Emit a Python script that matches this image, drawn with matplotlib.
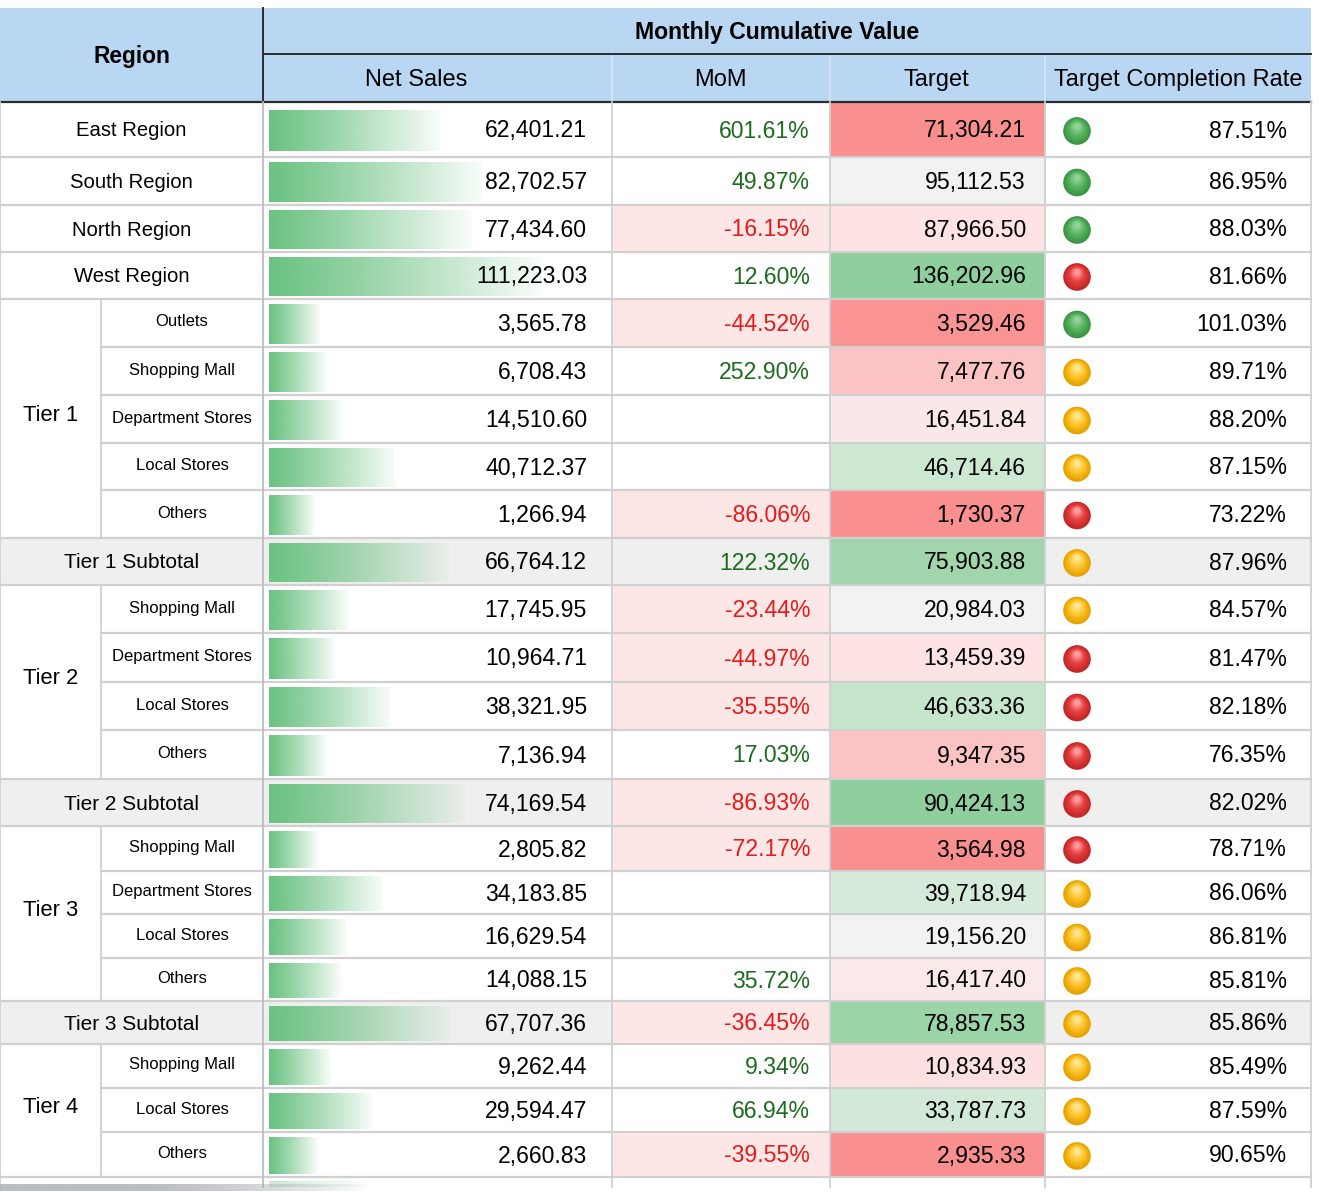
import numpy as np
import matplotlib
import matplotlib.pyplot as plt
from matplotlib.patches import Rectangle, Circle
from matplotlib.colors import LinearSegmentedColormap, to_rgb

matplotlib.use('Agg')
plt.rcParams['font.family'] = ['Liberation Sans', 'DejaVu Sans']

row_labels = ["East Region", "South Region", "North Region", "West Region",
              "Outlets", "Shopping Mall", "Department Stores", "Local Stores", "Others",
              "Tier 1 Subtotal",
              "Shopping Mall", "Department Stores", "Local Stores", "Others",
              "Tier 2 Subtotal",
              "Shopping Mall", "Department Stores", "Local Stores", "Others",
              "Tier 3 Subtotal",
              "Shopping Mall", "Local Stores", "Others"]
row_tier = [None] * 4 + ["Tier 1"] * 5 + [None] + ["Tier 2"] * 4 + [None] + \
           ["Tier 3"] * 4 + [None] + ["Tier 4"] * 3
is_subtotal = [lab.endswith("Subtotal") for lab in row_labels]

net_sales = [62401.21, 82702.57, 77434.60, 111223.03,
             3565.78, 6708.43, 14510.60, 40712.37, 1266.94,
             66764.12,
             17745.95, 10964.71, 38321.95, 7136.94,
             74169.54,
             2805.82, 34183.85, 16629.54, 14088.15,
             67707.36,
             9262.44, 29594.47, 2660.83]
mom = [601.61, 49.87, -16.15, 12.60,
       -44.52, 252.90, None, None, -86.06,
       122.32,
       -23.44, -44.97, -35.55, 17.03,
       -86.93,
       -72.17, None, None, 35.72,
       -36.45,
       9.34, 66.94, -39.55]
target = [71304.21, 95112.53, 87966.50, 136202.96,
          3529.46, 7477.76, 16451.84, 46714.46, 1730.37,
          75903.88,
          20984.03, 13459.39, 46633.36, 9347.35,
          90424.13,
          3564.98, 39718.94, 19156.20, 16417.40,
          78857.53,
          10834.93, 33787.73, 2935.33]
# heat shade of the Target cell, -1 red .. 0 neutral .. 1 green (as seen)
target_shade = [-1.0, 0.0, -0.3, 1.0,
                -0.95, -0.55, -0.22, 0.5, -1.0,
                0.85,
                0.0, -0.3, 0.55, -0.55,
                1.0,
                -1.0, 0.38, 0.0, -0.18,
                0.9,
                -0.32, 0.45, -1.0]
rate = [87.51, 86.95, 88.03, 81.66,
        101.03, 89.71, 88.20, 87.15, 73.22,
        87.96,
        84.57, 81.47, 82.18, 76.35,
        82.02,
        78.71, 86.06, 86.81, 85.81,
        85.86,
        85.49, 87.59, 90.65]
status = ['g', 'g', 'g', 'r',
          'g', 'y', 'y', 'y', 'r',
          'y',
          'y', 'r', 'r', 'r',
          'r',
          'r', 'y', 'y', 'y',
          'y',
          'y', 'y', 'y']

sub_headers = ["Net Sales", "MoM", "Target", "Target Completion Rate"]

# ---- layout (pixels) ----
W, H = 1319, 1192
x_left, x_sub, x_reg, x_mom, x_tgt, x_rate, x_right = 0, 101, 263, 612, 830, 1045, 1311
y_top, y_hmid, y_hbot = 8, 54, 102
row_edges = [102, 157, 205, 252, 299, 347, 395, 443, 490, 538, 585, 633,
             682, 730, 779, 826, 871, 914, 958, 1001, 1044, 1088, 1132, 1177]
sub_header_x = [416, 720, 936, 1178]

header_blue = '#b9d6f2'
grid_grey = '#d0d0d0'
dark_line = '#2b2b2b'
subtotal_grey = '#efefef'
pink_bg = '#fde6e6'
pos_green = '#1d6b1f'
neg_red = '#e21b1b'
bar_green = '#6ac281'

target_cmap = LinearSegmentedColormap.from_list(
    'tgt', [(0.0, '#fa8f8f'), (0.225, '#fbc3c3'), (0.35, '#fde3e3'),
            (0.5, '#f2f2f2'), (0.75, '#cde8d3'), (1.0, '#8fcf9d')])
ball_colors = {
    'g': ['#3a9444', '#5cb864', '#93d197'],
    'y': ['#e5a200', '#ffc62e', '#ffe590'],
    'r': ['#c42626', '#e84242', '#ff9a9a'],
}

bar_x0 = 269
bar_px_per_unit = 0.00205
bar_min_px = 43

fig = plt.figure(figsize=(W / 100, H / 100), dpi=100)
ax = fig.add_axes([0, 0, 1, 1])
ax.set_xlim(0, W)
ax.set_ylim(H, 0)
ax.axis('off')

fs_num = 16.6
fs_lab = 14.6
fs_small = 12.0
dy = 1.5  # text baseline nudge

# ---- header ----
ax.add_patch(Rectangle((x_left, y_top), x_right - x_left, y_hbot - y_top,
                       facecolor=header_blue, edgecolor='none', zorder=1))
ax.text((x_left + x_reg) / 2, (y_top + y_hbot) / 2 + 1, "Region", ha='center', va='center',
        fontsize=16.4, fontweight='bold', zorder=5)
ax.text(777, (y_top + y_hmid) / 2 + 1.5, "Monthly Cumulative Value",
        ha='center', va='center', fontsize=16.6, fontweight='bold', zorder=5)
for xc, name in zip(sub_header_x, sub_headers):
    ax.text(xc, (y_hmid + y_hbot) / 2 + 2, name,
            ha='center', va='center', fontsize=17.0, zorder=5)
for xv in [x_mom, x_tgt, x_rate]:
    ax.plot([xv, xv], [y_hmid, y_hbot], color='#d6e6f6', lw=1.2, zorder=2)
ax.plot([x_reg, x_reg], [y_top, y_hbot], color=dark_line, lw=1.4, zorder=3)
ax.plot([x_reg, x_right], [y_hmid, y_hmid], color=dark_line, lw=1.4, zorder=3)
ax.plot([x_left, x_right], [y_hbot, y_hbot], color=dark_line, lw=1.6, zorder=3)


def draw_ball(cx, cy, r, key):
    cols = ball_colors[key]
    cm = LinearSegmentedColormap.from_list('b', cols)
    n = 14
    for k in range(n):
        f = k / (n - 1)
        rr = r * (1 - 0.8 * f)
        oy = -r * 0.35 * f
        ax.add_patch(Circle((cx, cy + oy), rr, facecolor=cm(f ** 1.2),
                            edgecolor='none', zorder=6 + k * 0.01))


# ---- body ----
nrows = len(row_labels)
t = np.linspace(0, 1, 256)
for i in range(nrows):
    y0, y1 = row_edges[i], row_edges[i + 1]
    yc = (y0 + y1) / 2
    h = y1 - y0
    if is_subtotal[i]:
        ax.add_patch(Rectangle((x_left, y0), x_right - x_left, h,
                               facecolor=subtotal_grey, edgecolor='none', zorder=1))

    # label column(s)
    if row_tier[i] is None:
        ax.text((x_left + x_reg) / 2, yc + dy, row_labels[i], ha='center', va='center',
                fontsize=fs_lab if not is_subtotal[i] else 15.0, zorder=5)
    else:
        ax.text((x_sub + x_reg) / 2, yc - 1, row_labels[i], ha='center', va='center',
                fontsize=fs_small, zorder=5)

    # net sales bar with fading gradient
    bw = bar_min_px + net_sales[i] * bar_px_per_unit
    bh = min(h - 8, 41)
    alpha = np.clip(1.0 - 0.96 * t ** 1.1, 0, 1)
    img = np.zeros((1, 256, 4))
    img[0, :, :3] = to_rgb(bar_green)
    img[0, :, 3] = alpha
    ax.imshow(img, extent=(bar_x0, bar_x0 + bw, yc + bh / 2 + 1, yc - bh / 2 + 1),
              aspect='auto', interpolation='bilinear', zorder=3)
    ax.text(x_mom - 25, yc + dy, f"{net_sales[i]:,.2f}", ha='right', va='center',
            fontsize=fs_num, zorder=5)

    # MoM
    if mom[i] is not None:
        if mom[i] < 0:
            ax.add_patch(Rectangle((x_mom, y0), x_tgt - x_mom, h,
                                   facecolor=pink_bg, edgecolor='none', zorder=2))
        ax.text(x_tgt - 20, yc + dy, f"{mom[i]:.2f}%", ha='right', va='center',
                fontsize=fs_num, color=pos_green if mom[i] >= 0 else neg_red, zorder=5)

    # Target heat cell
    ax.add_patch(Rectangle((x_tgt, y0), x_rate - x_tgt, h,
                           facecolor=target_cmap((target_shade[i] + 1) / 2),
                           edgecolor='none', zorder=2))
    ax.text(x_rate - 19, yc + dy, f"{target[i]:,.2f}", ha='right', va='center',
            fontsize=fs_num, zorder=5)

    # completion rate with status ball
    draw_ball(x_rate + 32, yc + 1.5, 13.8, status[i])
    ax.text(x_right - 24, yc + dy, f"{rate[i]:.2f}%", ha='right', va='center',
            fontsize=fs_num, zorder=5)

# merged tier cells
tiers = []
for tname in row_tier:
    if tname is not None and tname not in tiers:
        tiers.append(tname)
for tname in tiers:
    idx = [i for i, tt in enumerate(row_tier) if tt == tname]
    ty0, ty1 = row_edges[idx[0]], row_edges[idx[-1] + 1]
    ax.text((x_left + x_sub) / 2, (ty0 + ty1) / 2 - 3, tname, ha='center', va='center',
            fontsize=15.8, zorder=5)
    ax.plot([x_sub, x_sub], [ty0, ty1], color=grid_grey, lw=1.3, zorder=4)

# horizontal grid lines
for i in range(1, nrows + 1):
    yv = row_edges[i]
    prev_t = row_tier[i - 1]
    next_t = row_tier[i] if i < nrows else None
    xs = x_sub if (prev_t is not None and prev_t == next_t) else x_left
    ax.plot([xs, x_right], [yv, yv], color=grid_grey, lw=1.6, zorder=4)

# vertical grid lines in body
body_bottom = row_edges[-1] + 10
for xv in [x_left, x_reg, x_mom, x_tgt, x_rate, x_right]:
    col = '#bdbdbd' if xv == x_reg else grid_grey
    ax.plot([xv, xv], [y_hbot, body_bottom], color=col, lw=1.3, zorder=4)

# partially visible next row and scrollbar
yb = row_edges[-1]
img = np.zeros((1, 256, 4))
img[0, :, :3] = to_rgb(bar_green)
img[0, :, 3] = np.clip(1.0 - t, 0, 1) * 0.35
ax.imshow(img, extent=(bar_x0, bar_x0 + 100, body_bottom, yb + 4),
          aspect='auto', interpolation='bilinear', zorder=3)
sb = np.zeros((1, 256, 4))
sb[0, :, :3] = to_rgb('#a9adb2')
sb[0, :, 3] = np.clip(1.2 - 1.2 * t ** 2, 0, 1) * 0.8
ax.imshow(sb, extent=(0, 372, 1191, 1184), aspect='auto',
          interpolation='bilinear', zorder=6)

ax.set_xlim(0, W)
ax.set_ylim(H, 0)
fig.savefig('out.png', dpi=100, facecolor='white')
